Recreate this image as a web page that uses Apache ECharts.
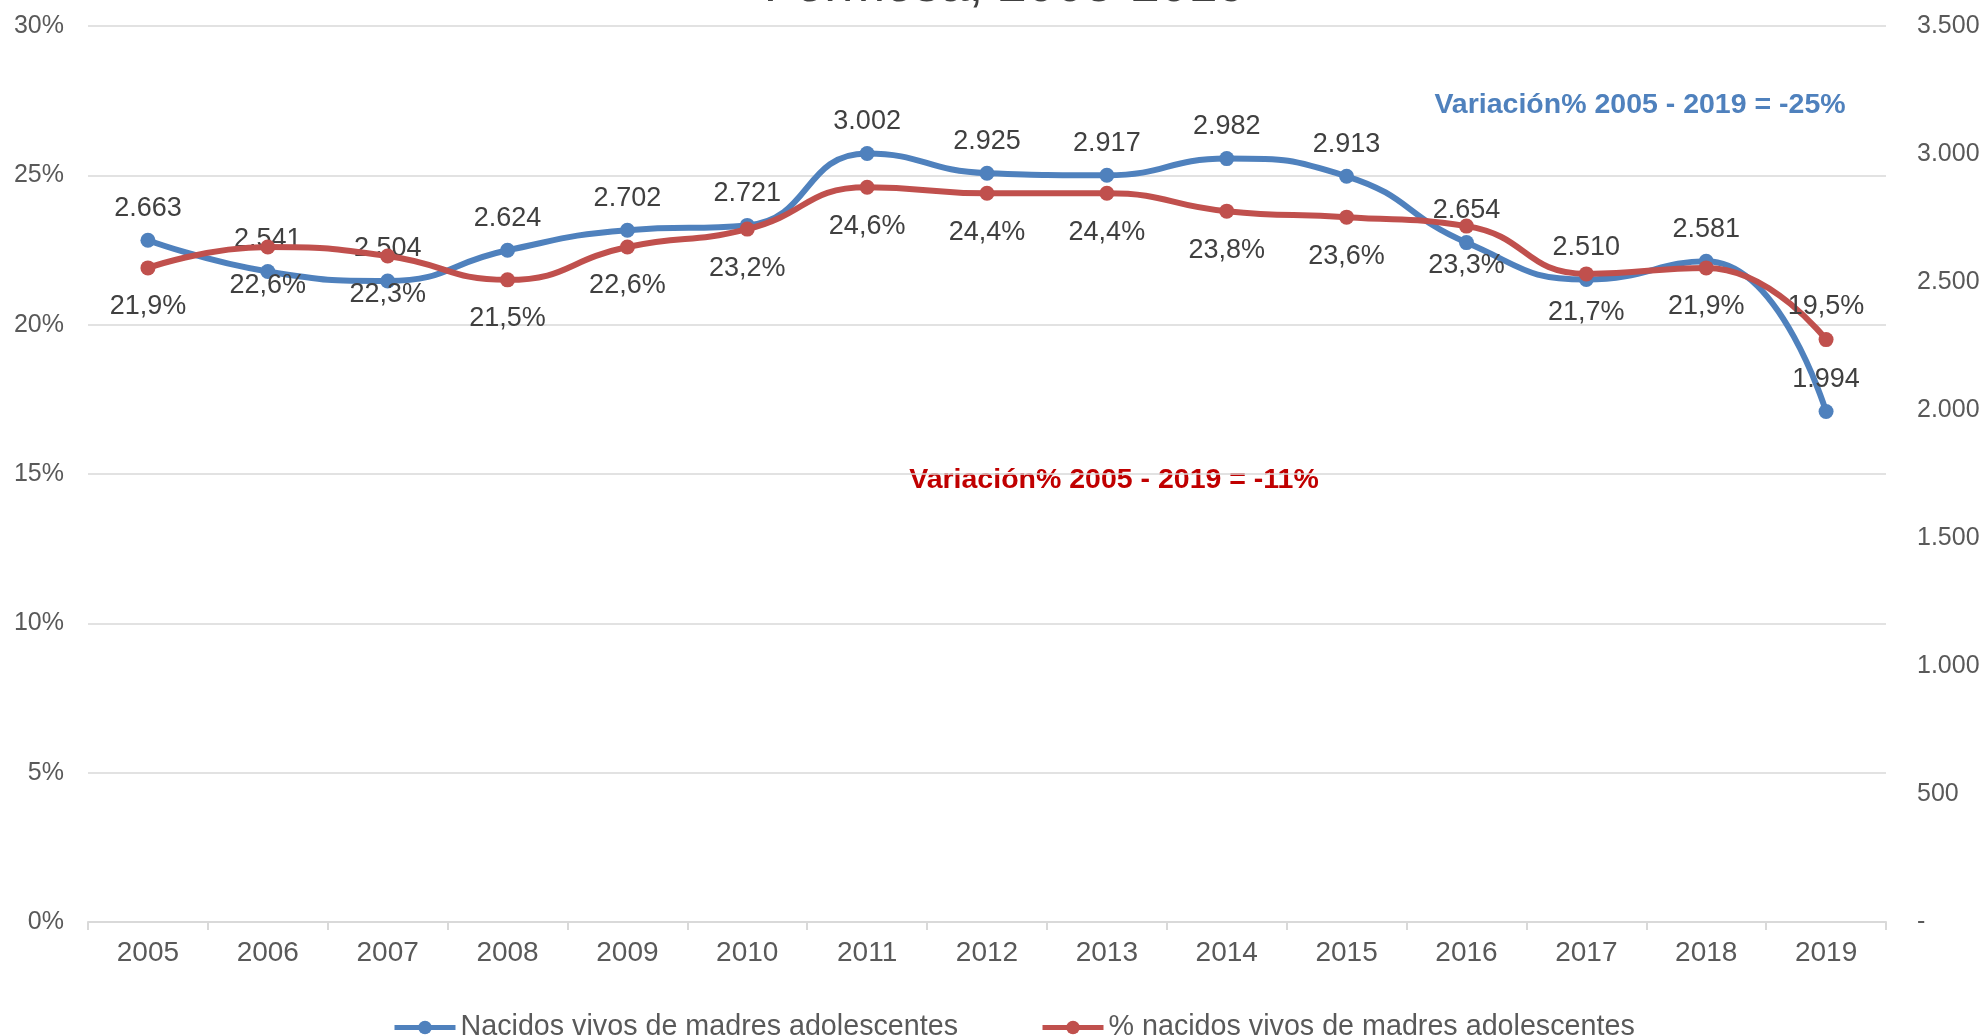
<!DOCTYPE html>
<html>
<head>
	<meta charset="utf-8">
	<title>Nacidos vivos de madres adolescentes - Formosa</title>
	<style>
		html, body { margin: 0; padding: 0; background: #fff; }
		#chart1 { width: 1984px; height: 1036px; }
	</style>
</head>
<body>
	<div id="chart1"></div>

	<script src="https://cdn.jsdelivr.net/npm/echarts@6/dist/echarts.min.js"></script>
	<script type="text/javascript">

    var years = ['2005','2006','2007','2008','2009','2010','2011','2012','2013','2014','2015','2016','2017','2018','2019'];
    var nacidos = [2663, 2541, 2504, 2624, 2702, 2721, 3002, 2925, 2917, 2982, 2913, 2654, 2510, 2581, 1994];
    var porcentaje = [21.9, 22.6, 22.3, 21.5, 22.6, 23.2, 24.6, 24.4, 24.4, 23.8, 23.6, 23.3, 21.7, 21.9, 19.5];
    var nombres = ['Nacidos vivos de madres adolescentes', '% nacidos vivos de madres adolescentes'];

    var font = '"Liberation Sans", Arial, sans-serif';

    function miles(v){
        if (v === 0) return '-';
        var s = String(Math.round(v));
        return s.replace(/\B(?=(\d{3})+(?!\d))/g, '.');
    }

    function pct(v){
        return v.toFixed(1).replace('.', ',') + '%';
    }

    // el ultimo punto del % lleva la etiqueta arriba
    var porcData = porcentaje.map(function(v, i){
        if (i === porcentaje.length - 1) {
            return { value: v, label: { position: 'top', distance: 12 } };
        }
        return v;
    });

    var dom = document.getElementById('chart1');
    var myChart = echarts.init(dom);
    var option = {
        animation: false,
        backgroundColor: '#ffffff',
        textStyle: { fontFamily: font },
        grid: { left: 88, right: 98, top: 26, bottom: 114, containLabel: false },
        legend: {
            data: nombres,
            left: 387,
            top: 1008,
            itemWidth: 61,
            itemHeight: 17,
            itemGap: 82,
            lineStyle: { width: 5 },
            textStyle: { fontSize: 28.7, color: '#595959', fontFamily: font }
        },
        graphic: [
            {
                type: 'text',
                x: 1005, y: -13,
                style: {
                    text: 'Formosa, 2005-2019',
                    fontSize: 52, fontFamily: font, fill: '#404040',
                    align: 'center', verticalAlign: 'middle'
                }
            },
            {
                type: 'text',
                x: 1640, y: 105,
                style: {
                    text: 'Variación% 2005 - 2019 = -25%',
                    fontSize: 28.5, fontWeight: 'bold', fontFamily: font, fill: '#4F81BD',
                    align: 'center', verticalAlign: 'middle'
                }
            },
            {
                type: 'text',
                x: 1114, y: 480,
                style: {
                    text: 'Variación% 2005 - 2019 = -11%',
                    fontSize: 28.5, fontWeight: 'bold', fontFamily: font, fill: '#C00000',
                    align: 'center', verticalAlign: 'middle'
                }
            }
        ],
        xAxis: {
            type: 'category',
            data: years,
            boundaryGap: true,
            axisLine: { lineStyle: { color: '#d9d9d9', width: 2 } },
            axisTick: { show: true, length: 8, lineStyle: { color: '#d9d9d9', width: 2 } },
            axisLabel: { fontSize: 28, color: '#595959', margin: 17, fontFamily: font },
            splitLine: { show: false }
        },
        yAxis: [
            {
                type: 'value',
                min: 0, max: 30, interval: 5,
                axisLine: { show: false },
                axisTick: { show: false },
                axisLabel: { fontSize: 25, color: '#595959', margin: 24, formatter: '{value}%', fontFamily: font },
                splitLine: { lineStyle: { color: '#d9d9d9', width: 1.5 } }
            },
            {
                type: 'value',
                position: 'right',
                min: 0, max: 3500, interval: 500,
                axisLine: { show: false },
                axisTick: { show: false },
                axisLabel: { fontSize: 25, color: '#595959', margin: 31, formatter: miles, fontFamily: font },
                splitLine: { show: false }
            }
        ],
        series: [
            {
                name: nombres[0],
                type: 'line',
                yAxisIndex: 1,
                data: nacidos,
                smooth: 0.5,
                symbol: 'circle',
                symbolSize: 15,
                itemStyle: { color: '#4F81BD' },
                lineStyle: { color: '#4F81BD', width: 6 },
                label: {
                    show: true, position: 'top', distance: 11,
                    fontSize: 27, color: '#404040', fontFamily: font,
                    formatter: function(p){ return miles(p.value); }
                },
                z: 2
            },
            {
                name: nombres[1],
                type: 'line',
                yAxisIndex: 0,
                data: porcData,
                smooth: 0.5,
                symbol: 'circle',
                symbolSize: 15,
                itemStyle: { color: '#C0504D' },
                lineStyle: { color: '#C0504D', width: 6 },
                label: {
                    show: true, position: 'bottom', distance: 18,
                    fontSize: 27, color: '#404040', fontFamily: font,
                    formatter: function(p){ return pct(p.value); }
                },
                z: 3
            }
        ]
    };
    myChart.setOption(option, true);

	</script>
</body>
</html>
